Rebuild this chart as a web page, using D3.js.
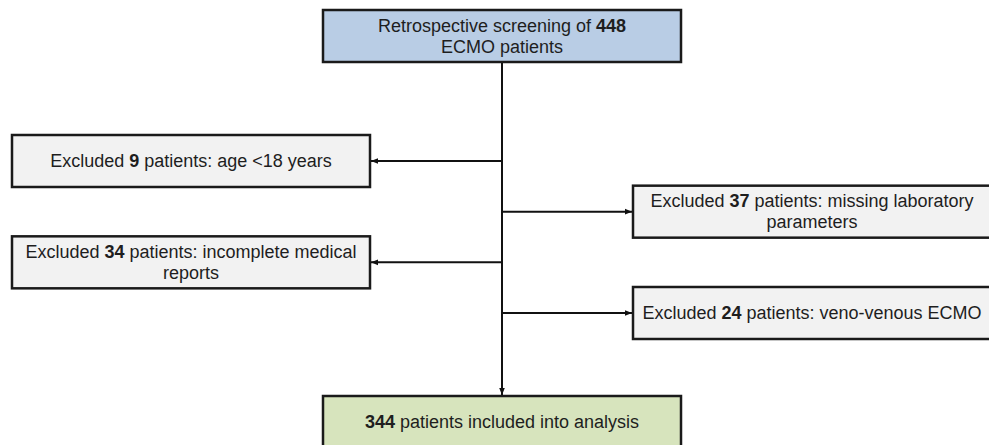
<!DOCTYPE html>
<html>
<head>
<meta charset="utf-8">
<script src="https://cdn.jsdelivr.net/npm/d3@7"></script>
<style>
  body { margin: 0; background: #fff; }
  svg { display: block; font-family: "Liberation Sans", Arial, sans-serif; }
</style>
</head>
<body>
<div id="chart"></div>
<script>
// flow data: counts and the text around them
const screenedCount = 448
const screenedText = ["Retrospective screening of ", "ECMO patients"]

const exclCounts = [9, 37, 34, 24]
const exclReasons = ["age <18 years", "missing laboratory parameters", "incomplete medical reports", "veno-venous ECMO"]
const exclSides = ["left", "right", "left", "right"]
// manual line breaks as in the figure
const exclLines = [
    [["Excluded ", "9", " patients: age <18 years"]],
    [["Excluded ", "37", " patients: missing laboratory"], ["", "", "parameters"]],
    [["Excluded ", "34", " patients: incomplete medical"], ["", "", "reports"]],
    [["Excluded ", "24", " patients: veno-venous ECMO"]]
]

const includedCount = 344
const includedText = " patients included into analysis"

const width = 989
const height = 445
const boxW = 358
const boxH = 52
const spineX = 502

const svg = d3.select("#chart").append("svg")
    .attr("width", width)
    .attr("height", height)

svg.append("defs").append("marker")
    .attr("id", "arr")
    .attr("viewBox", "0 0 10 10")
    .attr("refX", 10)
    .attr("refY", 5)
    .attr("markerWidth", 7)
    .attr("markerHeight", 7)
    .attr("markerUnits", "userSpaceOnUse")
    .attr("orient", "auto")
    .append("path")
    .attr("d", "M0,1 L10,5 L0,9 Z")
    .attr("fill", "#111")

// vertical position of each exclusion branch
const y = d3.scalePoint()
    .domain(d3.range(exclCounts.length))
    .range([161, 313])

const boxX = d3.scaleOrdinal()
    .domain(["left", "right", "center"])
    .range([12, 633, 323])

function drawBox(x0, y0, fill, lines) {
    const g = svg.append("g")
    g.append("rect")
        .attr("x", x0)
        .attr("y", y0)
        .attr("width", boxW)
        .attr("height", boxH)
        .attr("fill", fill)
        .attr("stroke", "#1a1a1a")
        .attr("stroke-width", 2.5)
    const lh = 21
    const top = y0 + boxH / 2 - (lines.length - 1) * lh / 2
    lines.forEach((parts, i) => {
        const t = g.append("text")
            .attr("x", x0 + boxW / 2)
            .attr("y", top + i * lh)
            .attr("dy", "0.35em")
            .attr("text-anchor", "middle")
            .attr("font-size", 18)
            .attr("fill", "#1e1e1e")
        parts.forEach((p, j) => {
            if (p === "") return
            t.append("tspan")
                .attr("font-weight", j === 1 ? "bold" : null)
                .text(p)
        })
    })
}

// main spine
svg.append("line")
    .attr("x1", spineX).attr("x2", spineX)
    .attr("y1", 62).attr("y2", 395)
    .attr("stroke", "#111")
    .attr("stroke-width", 2)
    .attr("marker-end", "url(#arr)")

// branches
exclCounts.forEach((c, i) => {
    const side = exclSides[i]
    const x0 = boxX(side)
    svg.append("line")
        .attr("x1", spineX)
        .attr("x2", side === "left" ? x0 + boxW + 1 : x0 - 1)
        .attr("y1", y(i)).attr("y2", y(i))
        .attr("stroke", "#111")
        .attr("stroke-width", 2)
        .attr("marker-end", "url(#arr)")
    drawBox(x0, y(i) - boxH / 2, "#f2f2f2", exclLines[i])
})

drawBox(boxX("center"), 10, "#b9cde5", [[screenedText[0], String(screenedCount), ""], ["", "", screenedText[1]]])
drawBox(boxX("center"), 396, "#d7e4bd", [["", String(includedCount), includedText]])
</script>
</body>
</html>
